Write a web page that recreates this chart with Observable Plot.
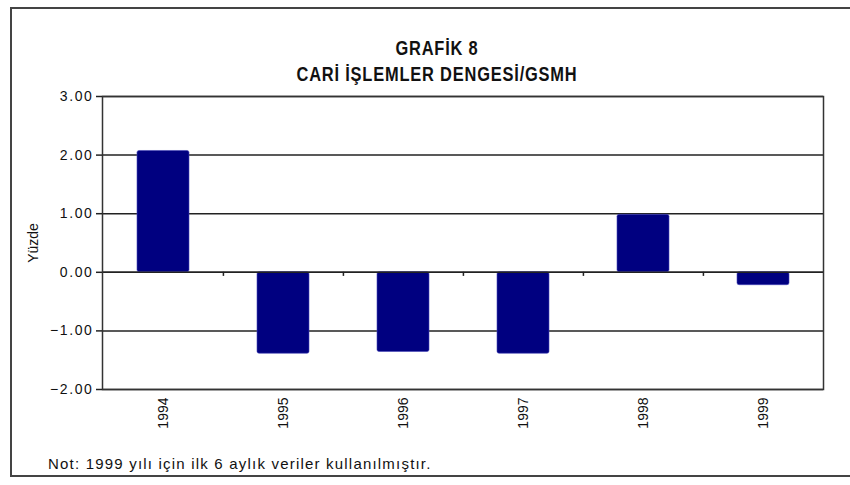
<!DOCTYPE html>
<html>
<head>
<meta charset="utf-8">
<script src="https://cdn.jsdelivr.net/npm/d3@7"></script>
<script src="https://cdn.jsdelivr.net/npm/@observablehq/plot@0.6"></script>
<style>
  html, body { margin: 0; padding: 0; background: #fff; }
  #wrap { position: relative; width: 850px; height: 485px; overflow: hidden; }
  #border { position: absolute; left: 10px; top: 7px; width: 860px; height: 470px; border: 2px solid #444; border-right: none; box-sizing: border-box; }
  .title { position: absolute; left: 0; width: 874px; text-align: center; font-family: "Liberation Sans", Arial, sans-serif; font-weight: bold; font-size: 20px; line-height: 23px; letter-spacing: 1px; color: #111; transform: scaleX(0.82); transform-origin: 437px 0; white-space: nowrap; }
  #note { position: absolute; left: 48px; top: 455px; font-family: "Liberation Sans", Arial, sans-serif; font-size: 15px; line-height: 17px; letter-spacing: 1.2px; color: #111; white-space: nowrap; }
  #chart { position: absolute; left: 0; top: 0; }
</style>
</head>
<body>
<div id="wrap">
  <div id="border"></div>
  <div id="chart"></div>
  <div class="title" id="t1" style="top:37px">GRAFİK 8</div>
  <div class="title" id="t2" style="top:63px">CARİ İŞLEMLER DENGESİ/GSMH</div>
  <div id="note">Not: 1999 yılı için ilk 6 aylık veriler kullanılmıştır.</div>
</div>
<script>
const years = ["1994", "1995", "1996", "1997", "1998", "1999"];
const values = [2.07, -1.39, -1.36, -1.39, 0.98, -0.22];
const yTicks = [-2, -1, 0, 1, 2, 3];

const data = years.map((year, i) => ({year, value: values[i]}));

const W = 850, H = 485, mL = 102, mR = 27, mT = 96, mB = 96;
const step = (W - mL - mR) / years.length;

const chart = Plot.plot({
  width: W,
  height: H,
  marginLeft: mL,
  marginRight: mR,
  marginTop: mT,
  marginBottom: mB,
  style: {
    fontFamily: "'Liberation Sans', Arial, sans-serif",
    fontSize: "14px",
    color: "#111",
    background: "transparent",
    overflow: "visible"
  },
  x: {domain: years, paddingInner: 0.567, paddingOuter: 0.2835, axis: null},
  y: {domain: [-2, 3], axis: null},
  marks: [
    Plot.gridY(yTicks, {stroke: "#222", strokeOpacity: 1, strokeWidth: 1.5}),
    Plot.barY(data, {x: "year", y: "value", fill: "#000080", stroke: "#4848b8", strokeWidth: 0.6, rx: 2}),
    Plot.ruleY([0], {stroke: "#222", strokeWidth: 1.5}),
    Plot.ruleX(years.slice(1), {x: d => d, y1: 0, y2: -0.07, dx: -step / 2, stroke: "#222", strokeWidth: 1.5}),
    Plot.frame({stroke: "#333", strokeWidth: 1.5}),
    Plot.axisY(yTicks, {
      anchor: "left",
      tickFormat: d3.format(".2f"),
      tickSize: 6,
      tickPadding: 3,
      stroke: "#222",
      strokeWidth: 1.5,
      label: "Yüzde",
      labelAnchor: "center",
      labelArrow: "none",
      labelOffset: 74,
      fontSize: 14,
      style: "letter-spacing:1.5px"
    }),
    Plot.axisX(years, {
      anchor: "bottom",
      tickSize: 0,
      tickPadding: 8,
      tickRotate: -90,
      label: null,
      fontSize: 14
    })
  ]
});

chart.querySelectorAll("[aria-label='y-axis tick label'] text").forEach(t => t.style.letterSpacing = "1.6px");
document.getElementById("chart").appendChild(chart);
</script>
</body>
</html>
